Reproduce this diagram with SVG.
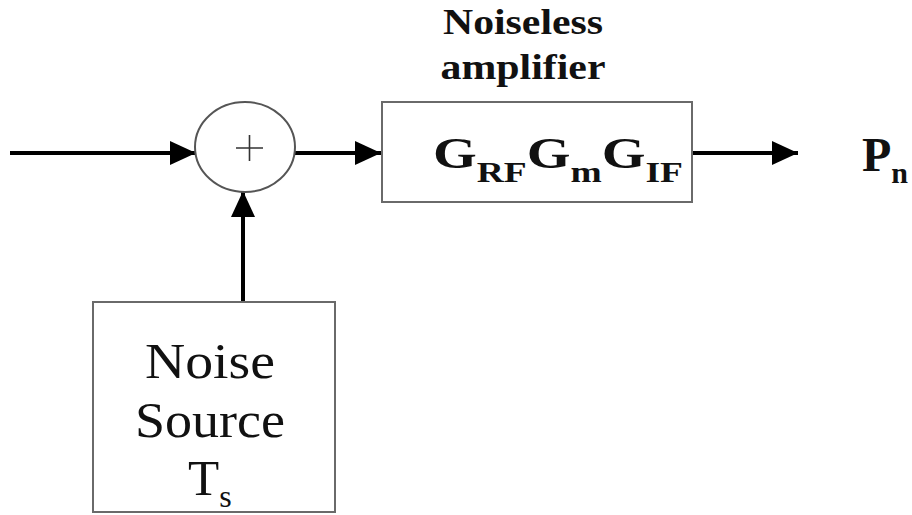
<svg xmlns="http://www.w3.org/2000/svg" width="912" height="515" viewBox="0 0 912 515">
<defs>
<style>
.box{fill:#fff;stroke:#6a6a6a;stroke-width:2}
.conn{stroke:#000;stroke-width:4;fill:none}
.tb{font-family:"Liberation Serif","Times New Roman",serif;font-weight:bold;fill:#111}
.tr{font-family:"Liberation Serif","Times New Roman",serif;fill:#111}
</style>
<marker id="ah" markerUnits="userSpaceOnUse" markerWidth="28" markerHeight="26" refX="26" refY="13" orient="auto">
<path d="M0,1 L26,13 L0,25 Z" fill="#000"/>
</marker>
</defs>
<rect width="912" height="515" fill="#fff"/>
<g id="connectors">
<line class="conn" x1="10" y1="153" x2="196" y2="153" marker-end="url(#ah)"/>
<line class="conn" x1="295" y1="153" x2="381" y2="153" marker-end="url(#ah)"/>
<line class="conn" x1="693" y1="153" x2="798" y2="153" marker-end="url(#ah)"/>
<line class="conn" x1="243" y1="301" x2="243" y2="191" marker-end="url(#ah)"/>
</g>
<g id="summer">
<ellipse cx="245" cy="147" rx="50" ry="45" fill="#fff" stroke="#555" stroke-width="2"/>
<path d="M236,148 H263 M249.5,135 V161" stroke="#333" stroke-width="1.6"/>
</g>
<g id="amp-label">
<text class="tb" x="523" y="34" font-size="35" text-anchor="middle" textLength="160" lengthAdjust="spacingAndGlyphs">Noiseless</text>
<text class="tb" x="523" y="79" font-size="35" text-anchor="middle" textLength="165" lengthAdjust="spacingAndGlyphs">amplifier</text>
</g>
<g id="amplifier">
<rect class="box" x="382" y="102" width="310" height="100"/>
<text class="tb" x="433" y="168" font-size="45" textLength="250" lengthAdjust="spacingAndGlyphs">G<tspan font-size="30" dy="14">RF</tspan><tspan dy="-14">G</tspan><tspan font-size="30" dy="14">m</tspan><tspan dy="-14">G</tspan><tspan font-size="30" dy="14">IF</tspan></text>
</g>
<g id="output">
<text class="tb" x="862" y="171" font-size="48">P<tspan font-size="30" dy="12">n</tspan></text>
</g>
<g id="noise-source">
<rect class="box" x="93" y="302" width="242" height="210"/>
<text class="tr" x="210" y="378" font-size="51" text-anchor="middle" textLength="130" lengthAdjust="spacingAndGlyphs">Noise</text>
<text class="tr" x="210" y="437" font-size="51" text-anchor="middle" textLength="150" lengthAdjust="spacingAndGlyphs">Source</text>
<text class="tr" x="188" y="495" font-size="51">T<tspan font-size="32" dy="12">s</tspan></text>
</g>
</svg>
